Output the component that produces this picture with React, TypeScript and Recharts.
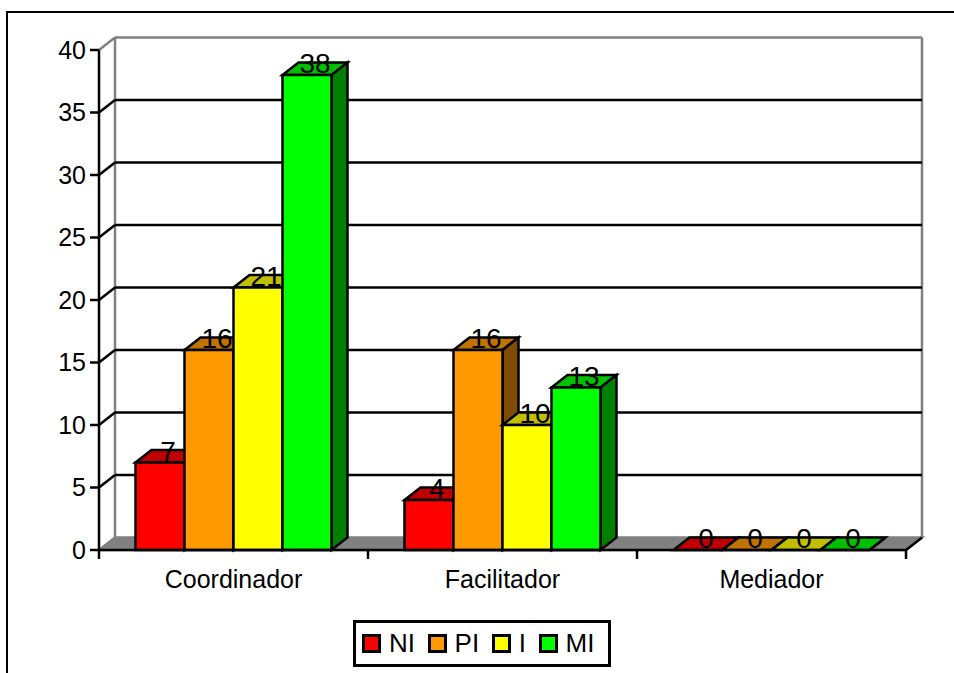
import * as React from 'react';
import { BarChart, Bar, XAxis, YAxis, CartesianGrid, Legend, LabelList } from 'recharts';

const categories = ['Coordinador', 'Facilitador', 'Mediador'];
const niValues = [7, 4, 0];
const piValues = [16, 16, 0];
const iValues = [21, 10, 0];
const miValues = [38, 13, 0];
const yTicks = [0, 5, 10, 15, 20, 25, 30, 35, 40];

const seriesList = [
    { key: 'NI', values: niValues, fill: '#ff0000', top: '#c00000', side: '#800000' },
    { key: 'PI', values: piValues, fill: '#ff9900', top: '#c07300', side: '#804d00' },
    { key: 'I', values: iValues, fill: '#ffff00', top: '#c0c000', side: '#808000' },
    { key: 'MI', values: miValues, fill: '#00ff00', top: '#00c000', side: '#008000' },
];

const chartData = categories.map((name, i) => {
    const row: any = { name };
    seriesList.forEach(s => { row[s.key] = s.values[i]; });
    return row;
});

const W = 954;
const H = 673;
const plotLeft = 99;
const plotRight = 906;
const plotTop = 50;
const plotBottom = 550;
const depthX = 16;
const depthY = 12.5;
const band = (plotRight - plotLeft) / categories.length;
const font = '"Liberation Sans", Arial, sans-serif';
const xAxisHeight = 40;
const legendHeight = 47;
const lineW = 2.5;

const wallGrey = '#808080';

// back wall line + the diagonal that joins it to the axis
const gridLine = (props: any) => {
    const { y1, index } = props;
    const isTop = Math.abs(y1 - plotTop) < 2;
    const isBottom = Math.abs(y1 - plotBottom) < 2;
    const bx1 = plotLeft + depthX;
    const bx2 = plotRight + depthX;
    const by = y1 - depthY;
    if (isBottom) {
        return (
            <g key={index}>
                <polygon
                    points={`${plotLeft},${y1} ${bx1},${by} ${bx2},${by} ${plotRight},${y1}`}
                    fill={wallGrey}
                    stroke={wallGrey}
                    strokeWidth={lineW}
                />
                <line x1={bx1} y1={plotTop - depthY} x2={bx1} y2={by} stroke={wallGrey} strokeWidth={lineW} />
                <line x1={bx2} y1={plotTop - depthY} x2={bx2} y2={by} stroke={wallGrey} strokeWidth={lineW} />
                <line x1={plotRight} y1={y1} x2={bx2} y2={by} stroke="#000" strokeWidth={lineW} />
            </g>
        );
    }
    const color = isTop ? wallGrey : '#000';
    return (
        <g key={index}>
            <line x1={plotLeft} y1={y1} x2={bx1} y2={by} stroke={color} strokeWidth={lineW} />
            <line x1={bx1} y1={by} x2={bx2} y2={by} stroke={color} strokeWidth={lineW} />
        </g>
    );
};

const makeShape = (top: string, side: string) => (props: any) => {
    const { x, y, width, height, fill } = props;
    const r = x + width;
    const b = y + height;
    return (
        <g stroke="#000" strokeWidth={lineW}>
            <polygon points={`${x},${y} ${x + depthX},${y - depthY} ${r + depthX},${y - depthY} ${r},${y}`} fill={top} />
            <polygon points={`${r},${y} ${r + depthX},${y - depthY} ${r + depthX},${b - depthY} ${r},${b}`} fill={side} />
            <rect x={x} y={y} width={width} height={height} fill={fill} />
        </g>
    );
};

const barLabel = (props: any) => {
    const { x, y, width, value } = props;
    return (
        <text x={x + width / 2 + 8} y={y - 2} textAnchor="middle" fontFamily={font} fontSize={28} fill="#000">
            {value}
        </text>
    );
};

const xTick = (props: any) => {
    const { x, payload, index } = props;
    const left = x - band / 2;
    return (
        <g>
            <line x1={left} y1={plotBottom} x2={left} y2={plotBottom + 9} stroke="#000" strokeWidth={lineW} />
            {index === categories.length - 1 && (
                <line x1={x + band / 2} y1={plotBottom} x2={x + band / 2} y2={plotBottom + 9} stroke="#000" strokeWidth={lineW} />
            )}
            <text x={x} y={588} textAnchor="middle" fontFamily={font} fontSize={25} fill="#000">
                {payload.value}
            </text>
        </g>
    );
};

const legendBox = (props: any) => (
    <div style={{
        boxSizing: 'border-box', width: 258, height: 47, border: '3px solid #000', background: '#fff',
        display: 'flex', alignItems: 'center', paddingLeft: 6, fontFamily: font, fontSize: 26, color: '#000',
    }}>
        {(props.payload || []).map((p: any) => (
            <div key={p.value} style={{ display: 'flex', alignItems: 'center', marginRight: 12.6 }}>
                <span style={{ boxSizing: 'border-box', width: 19, height: 19, border: '3px solid #000', background: p.color, marginRight: 8 }} />
                <span>{p.value}</span>
            </div>
        ))}
    </div>
);

export default function App() {
    return (
        <div style={{ position: 'absolute', left: 0, top: 0, width: W, height: H, overflow: 'hidden', background: '#fff' }}>
            <div style={{ position: 'absolute', left: 6, top: 11, width: 1000, height: 1000, borderLeft: '2px solid #000', borderTop: '2px solid #000' }} />
            <BarChart
                width={W}
                height={H}
                data={chartData}
                margin={{ top: plotTop, right: W - plotRight, bottom: H - plotBottom - xAxisHeight - legendHeight, left: 0 }}
                barGap={0}
                barCategoryGap={36.5}
                style={{ position: 'absolute', left: 0, top: 0 }}
            >
                <CartesianGrid horizontal={gridLine} vertical={false} />
                <XAxis
                    dataKey="name"
                    height={xAxisHeight}
                    axisLine={{ stroke: '#000', strokeWidth: lineW }}
                    tickLine={false}
                    tick={xTick}
                    interval={0}
                />
                <YAxis
                    width={plotLeft}
                    domain={[0, 40]}
                    ticks={yTicks}
                    interval={0}
                    tickSize={9}
                    tickMargin={4}
                    axisLine={{ stroke: '#000', strokeWidth: lineW }}
                    tickLine={{ stroke: '#000', strokeWidth: lineW }}
                    tick={{ fill: '#000', fontSize: 25, fontFamily: font }}
                />
                <Legend
                    content={legendBox}
                    itemSorter={null}
                    wrapperStyle={{ position: 'absolute', left: 353, top: 620, width: 258, height: 47, bottom: 'auto' }}
                />
                {seriesList.map(s => (
                    <Bar
                        key={s.key}
                        dataKey={s.key}
                        name={s.key}
                        fill={s.fill}
                        isAnimationActive={false}
                        shape={makeShape(s.top, s.side)}
                    >
                        <LabelList dataKey={s.key} content={barLabel} />
                    </Bar>
                ))}
            </BarChart>
        </div>
    );
}
